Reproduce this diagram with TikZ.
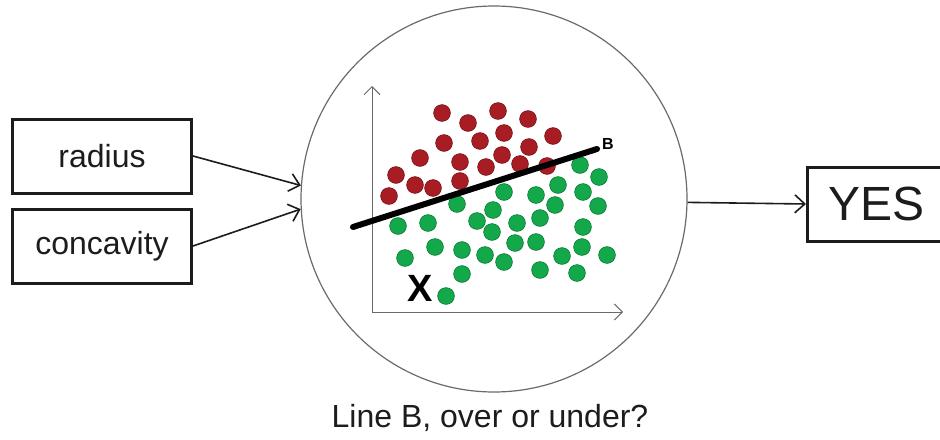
\documentclass[tikz,border=0pt]{standalone}
\usepackage{fontspec}
\setmainfont{Liberation Sans}
\usepackage{tikz}
\usetikzlibrary{arrows.meta,positioning}
\definecolor{Ink}{HTML}{1C1C1C}
\definecolor{Rim}{HTML}{6A6A6A}
\definecolor{RedDot}{HTML}{A81C24}
\definecolor{RedEdge}{HTML}{7A1218}
\definecolor{GreenDot}{HTML}{13A84A}
\definecolor{GreenEdge}{HTML}{0B7A35}
\tikzset{
  feat/.style={draw=Ink,line width=1.5pt,minimum width=89.5pt,minimum height=37pt,inner sep=0pt,text=Ink,font=\fontsize{16}{19}\selectfont},
  outbox/.style={feat,minimum width=0pt,inner xsep=10.5pt,text width=62pt,align=left,font=\fontsize{24}{28}\selectfont},
  arrow/.style={-{Straight Barb[length=5pt,width=9pt]},line width=0.8pt,draw=Ink},
  axis/.style={-{Straight Barb[length=4pt,width=8pt]},line width=0.5pt,draw=Rim},
  reddot/.style={circle,fill=RedDot,draw=RedEdge,line width=0.3pt,minimum size=8.4pt,inner sep=0pt},
  greendot/.style={circle,fill=GreenDot,draw=GreenEdge,line width=0.3pt,minimum size=8.4pt,inner sep=0pt}
}
\begin{document}
\begin{tikzpicture}[x=0.5pt,y=-0.5pt]
\useasboundingbox (0,0) rectangle (940,439);
\clip (0,0) rectangle (940,439);
\node[feat] (radius) at (102,156) {radius};
\node[feat,below=6.5pt of radius] (concav) {concavity};
\node[circle,draw=Rim,line width=0.6pt,minimum size=193pt,inner sep=0pt] (clf) at (494,199) {};
\node[outbox,anchor=west] (yes) at (806,204) {YES};
\node[text=Ink,font=\fontsize{16}{19}\selectfont] (ask) at (490,418) {Line B, over or under?};
\draw[arrow] (radius.east) -- (clf.176);
\draw[arrow] (concav.east) -- (clf.183.3);
\draw[arrow] (clf.-1.5) -- (yes.west);
% scatter plot inside the classifier
\coordinate (o) at (372,312);
\coordinate (ytop) at (372,86);
\coordinate (xend) at (623,312);
\draw[axis] (o) -- (ytop);
\draw[axis] (o) -- (xend);
\foreach \x/\y [count=\i] in {442/113,468/123,498/111,528/119,444/143,480/141,504/133,553/136,529/147,420/158,460/162,486/167,502/155,520/164,547/166,396/175,415/185,433/188,460/181,389/196}
  \node[reddot] (r\i) at (\x,\y) {};
\foreach \x/\y [count=\i] in {580/165,599/177,558/185,504/192,536/195,583/192,457/204,493/210,555/205,598/206,398/226,428/223,477/221,517/223,540/218,492/232,583/227,435/247,462/250,515/243,536/242,405/258,485/255,504/262,562/256,582/247,607/255,462/274,540/270,577/273,446/296}
  \node[greendot] (g\i) at (\x,\y) {};
\coordinate (bstart) at (353,227);
\coordinate (bend) at (597,149);
\draw[line width=3pt,line cap=round,draw=black] (bstart) -- (bend);
\node[font=\bfseries\fontsize{8}{9}\selectfont] (blabel) at (608,144) {B};
\node[font=\bfseries\fontsize{19}{20}\selectfont] (xpt) at (420,288) {X};
\end{tikzpicture}
\end{document}
